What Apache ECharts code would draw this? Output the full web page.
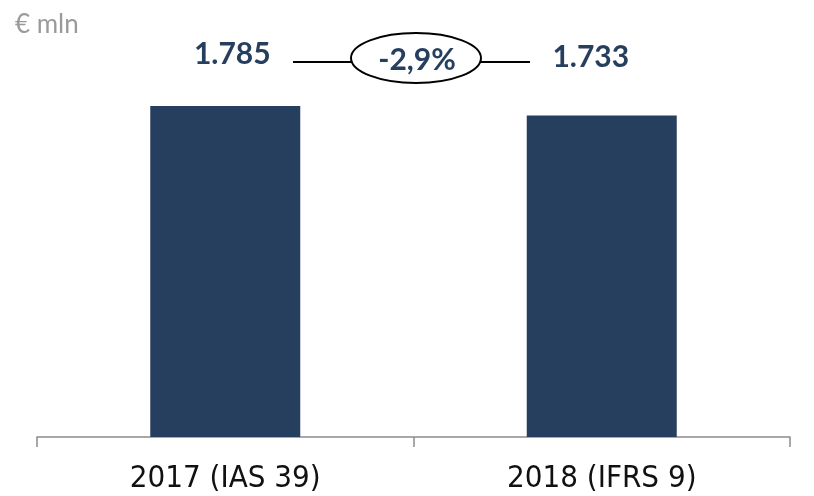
<!DOCTYPE html>
<html>
<head>
<meta charset="utf-8">
<script src="https://cdn.jsdelivr.net/npm/echarts@6/dist/echarts.min.js"></script>
<style>
  html, body { margin: 0; padding: 0; background: #fff; }
  #main { width: 814px; height: 496px; }
</style>
</head>
<body>
<div id="main"></div>
<script>
// dati
var categories = ['2017 (IAS 39)', '2018 (IFRS 9)'];
var values = [1785, 1733];
var labelTexts = ['1.785', '1.733'];
var unitText = '€ mln';

var barColor = '#263f5f';
var change = ((values[1] / values[0] - 1) * 100).toFixed(1).replace('.', ',') + '%';

var myChart = echarts.init(document.getElementById('main'));

var option = {
    backgroundColor: '#fff',
    animation: false,
    grid: { left: 37, right: 24, top: 66, bottom: 59 },
    xAxis: {
        type: 'category',
        data: categories,
        axisLine: { lineStyle: { color: '#8c8c8c', width: 1.5 } },
        axisTick: { show: true, alignWithLabel: false, length: 10, lineStyle: { color: '#8c8c8c', width: 1.5 } },
        axisLabel: {
            color: '#111',
            fontFamily: 'DejaVu Sans Condensed, sans-serif',
            fontSize: 31,
            margin: 26
        }
    },
    yAxis: {
        type: 'value',
        min: 0,
        max: 2000,
        show: false
    },
    series: [{
        type: 'bar',
        barWidth: 150,
        itemStyle: { color: barColor },
        label: {
            show: true,
            position: 'top',
            color: barColor,
            fontFamily: 'Lato, Noto Sans, sans-serif',
            fontWeight: 'bold',
            fontSize: 30,
            formatter: function (p) { return labelTexts[p.dataIndex]; }
        },
        data: [
            { value: values[0], label: { distance: 37, offset: [7, 0] } },
            { value: values[1], label: { distance: 43, offset: [-11, 0] } }
        ]
    }],
    graphic: [
        {
            type: 'text', left: 15, top: 12,
            style: { text: unitText, fill: '#9a9a9a', font: '26px Lato, Noto Sans, sans-serif' }
        },
        {
            type: 'line',
            shape: { x1: 293, y1: 62, x2: 351, y2: 62 },
            style: { stroke: '#000', lineWidth: 2 }
        },
        {
            type: 'line',
            shape: { x1: 481, y1: 62, x2: 530, y2: 62 },
            style: { stroke: '#000', lineWidth: 2 }
        },
        {
            type: 'ellipse',
            shape: { cx: 416, cy: 58, rx: 65, ry: 25 },
            style: { fill: 'transparent', stroke: '#000', lineWidth: 2 }
        },
        {
            type: 'text', x: 417, y: 60,
            style: {
                text: change, fill: barColor,
                font: 'bold 30px Lato, Noto Sans, sans-serif',
                align: 'center', verticalAlign: 'middle'
            }
        }
    ]
};

myChart.setOption(option);
</script>
</body>
</html>
